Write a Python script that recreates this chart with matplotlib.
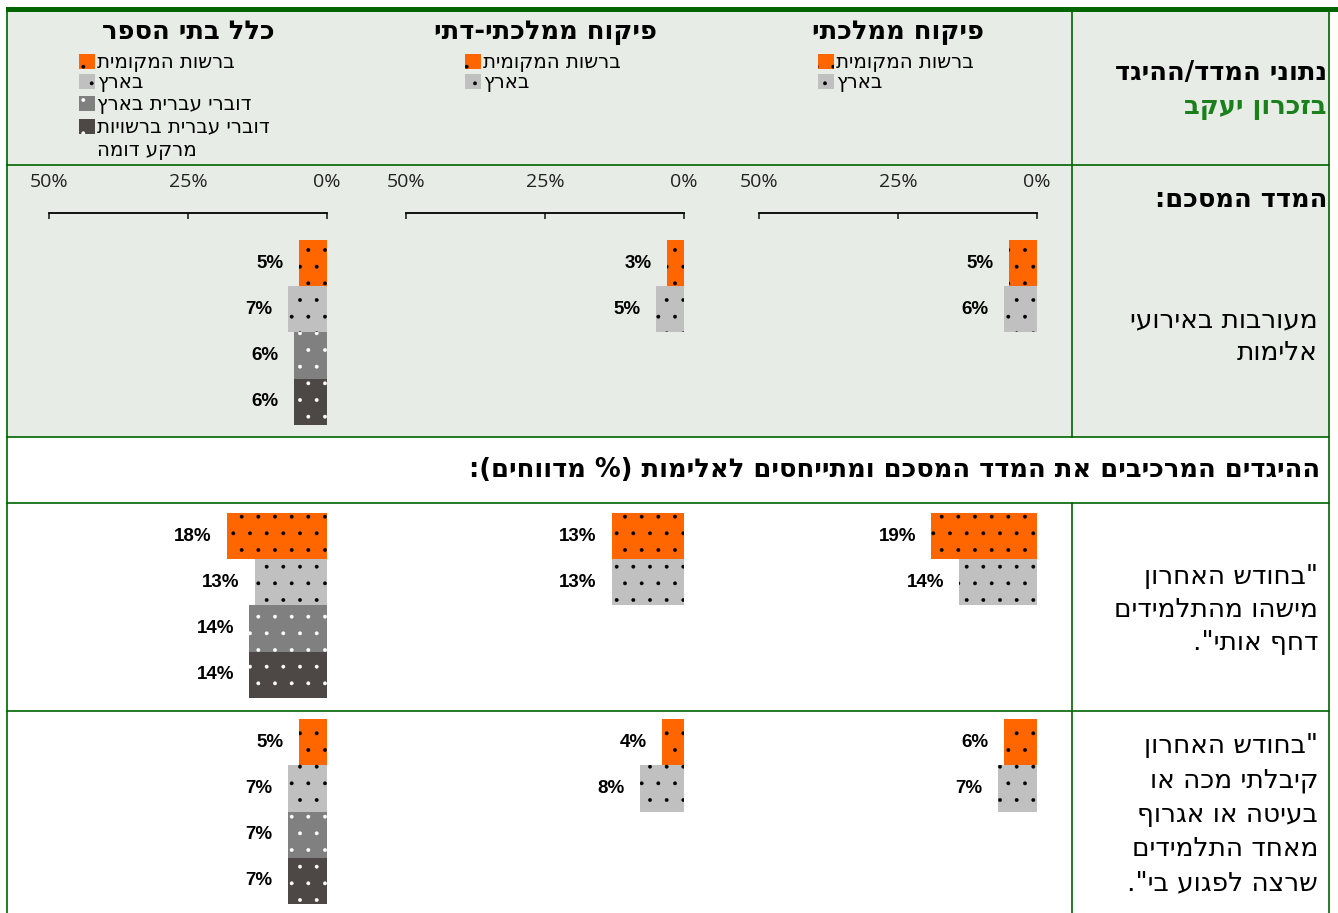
import matplotlib.pyplot as plt
from matplotlib.patches import Rectangle

plt.rcParams['font.family'] = ['DejaVu Sans']
plt.rcParams['hatch.linewidth'] = 0.3

W, H = 1338, 913

# data
panel_titles = ['כלל בתי הספר', 'פיקוח ממלכתי-דתי', 'פיקוח ממלכתי']
series_names = ['ברשות המקומית', 'בארץ', 'דוברי עברית בארץ', 'דוברי עברית ברשויות מרקע דומה']
summary_vals = [[5, 7, 6, 6], [3, 5], [5, 6]]
pushed_vals = [[18, 13, 14, 14], [13, 13], [19, 14]]
hit_vals = [[5, 7, 7, 7], [4, 8], [6, 7]]
tick_vals = [0, 25, 50]
tick_labels = ['0%', '25%', '50%']

row_header = 'נתוני המדד/ההיגד'
place_name = 'בזכרון יעקב'
summary_title = 'המדד המסכם:'
summary_label = ['מעורבות באירועי', 'אלימות']
items_heading = 'ההיגדים המרכיבים את המדד המסכם ומתייחסים לאלימות (% מדווחים):'
item1_lines = ['"בחודש האחרון', 'מישהו מהתלמידים', 'דחף אותי".']
item2_lines = ['"בחודש האחרון', 'קיבלתי מכה או', 'בעיטה או אגרוף', 'מאחד התלמידים', 'שרצה לפגוע בי".']

colors = ['#FF6600', '#C0C0C0', '#808080', '#4D4845']
dot_colors = ['black', 'black', 'white', 'white']
light_bg = '#E7ECE6'
green = '#006400'
title_green = '#1B7F1B'


def rtl(s):
    # matplotlib has no bidi support, so lay hebrew out visually
    return s[::-1].translate(str.maketrans('()', ')('))


fig = plt.figure(figsize=(W / 100, H / 100), dpi=100)
bg = fig.add_axes([0, 0, 1, 1])
bg.set_xlim(0, W)
bg.set_ylim(H, 0)
bg.axis('off')

# table background and grid
bg.add_patch(Rectangle((7, 12), 1322, 425, color=light_bg, lw=0))
bg.add_patch(Rectangle((6, 7), W - 6, 5, color=green, lw=0))
lw = 1.2
bg.plot([6.5, 6.5], [12, H], color=green, lw=lw)
bg.plot([1329, 1329], [12, H], color=green, lw=lw)
for y in [165, 437, 503, 711]:
    bg.plot([7, 1329], [y, y], color=green, lw=lw)
bg.plot([1072, 1072], [12, 437], color=green, lw=lw)
bg.plot([1072, 1072], [503, H], color=green, lw=lw)

# right column texts
head_fs = 18.5
row_fs = 19
bg.text(1327, 73, rtl(row_header), ha='right', va='center', fontsize=head_fs, fontweight='bold')
bg.text(1327, 107, rtl(place_name), ha='right', va='center', fontsize=head_fs,
        fontweight='bold', color=title_green)
bg.text(1327, 200, rtl(summary_title), ha='right', va='center', fontsize=head_fs,
        fontweight='bold')
for k, line in enumerate(summary_label):
    bg.text(1318, 320 + 33 * k, rtl(line), ha='right', va='center', fontsize=row_fs)
bg.text(1320, 470, rtl(items_heading), ha='right', va='center', fontsize=head_fs,
        fontweight='bold')
for k, line in enumerate(item1_lines):
    bg.text(1318, 577 + 33 * k, rtl(line), ha='right', va='center', fontsize=row_fs)
for k, line in enumerate(item2_lines):
    bg.text(1318, 746 + 34.3 * k, rtl(line), ha='right', va='center', fontsize=row_fs)

zero_x = [327, 684, 1037]
span = 278
bar_h = 46.25
legend_sq_x = [79, 465, 818]
legend_y = [62, 82, 104, 127]


def px_axes(x0, y0, w, h):
    return fig.add_axes([x0 / W, 1 - (y0 + h) / H, w / W, h / H])


def draw_bars(ax, vals):
    n = len(vals)
    ys = [i + 0.5 for i in range(n)]
    for i in range(n):
        ax.barh(ys[i], vals[i], height=1, color=colors[i], edgecolor=dot_colors[i],
                hatch='.', lw=0)
        ax.annotate(f'{vals[i]}%', (vals[i], ys[i]), xytext=(-11, 0), textcoords='offset points',
                    ha='right', va='center', fontsize=13.5, fontweight='bold',
                    family='Liberation Sans')
    ax.set_xlim(50, 0)


for p in range(3):
    left = zero_x[p] - span
    # summary cell with the percent axis on top
    ax = px_axes(left, 213, span, 425 - 213)
    ax.set_facecolor('none')
    draw_bars(ax, summary_vals[p])
    ax.set_ylim(4, -(240 - 213) / bar_h)
    for s in ['left', 'right', 'bottom']:
        ax.spines[s].set_visible(False)
    ax.spines['top'].set_linewidth(1.3)
    ax.set_yticks([])
    ax.xaxis.set_ticks_position('top')
    ax.set_xticks(tick_vals)
    ax.set_xticklabels(tick_labels, family='Open Sans')
    ax.tick_params(axis='x', direction='in', length=4, width=1.2, pad=16, labelsize=14,
                   top=True, bottom=False, labeltop=True, labelbottom=False, colors='#222222')

    for y0, vals in [(513, pushed_vals[p]), (719, hit_vals[p])]:
        ax2 = px_axes(left, y0, span, 4 * bar_h)
        ax2.set_facecolor('none')
        draw_bars(ax2, vals)
        ax2.set_ylim(4, 0)
        ax2.axis('off')

    # panel title and legend
    bg.text(zero_x[p] - span / 2, 32, rtl(panel_titles[p]), ha='center', va='center',
            fontsize=18.5, fontweight='bold')
    for j in range(len(summary_vals[p])):
        sq = legend_sq_x[p]
        yy = legend_y[j]
        bg.add_patch(Rectangle((sq, yy - 7.5), 16, 15, facecolor=colors[j],
                               edgecolor=dot_colors[j], hatch='.', lw=0))
        words = series_names[j].split(' ')
        lines = [series_names[j]] if len(words) < 4 else [' '.join(words[:3]), ' '.join(words[3:])]
        for k, line in enumerate(lines):
            bg.text(sq + 18, yy + 24 * k, rtl(line), ha='left', va='center', fontsize=14.2)

fig.savefig('out.png', dpi=100)
